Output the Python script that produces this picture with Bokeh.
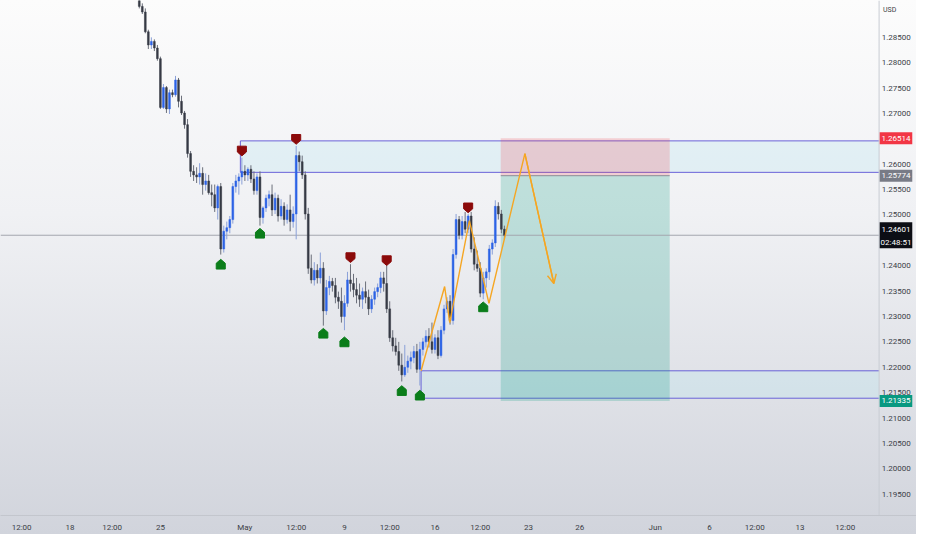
from bokeh.plotting import figure
from bokeh.models import (Range1d, FixedTicker, Arrow, OpenHead, ColumnDataSource)
from bokeh.embed import file_html
from bokeh.resources import INLINE
from bokeh.core.properties import value

FONT = "Roboto"

# ---------------- data (4H candles, bar index based) ----------------
first_bar = 46
opens = [1.2930, 1.2911, 1.2900, 1.2861, 1.2835, 1.2842, 1.2829, 1.2808, 1.2712, 1.2751,
         1.2709, 1.2741, 1.2737, 1.2766, 1.2724, 1.2701, 1.2678, 1.2621, 1.2586, 1.2579,
         1.2575, 1.2582, 1.2560, 1.2567, 1.2544, 1.2540, 1.2514, 1.2556, 1.2433, 1.2468,
         1.2475, 1.2491, 1.2556, 1.2567, 1.2575, 1.2586, 1.2579, 1.2590, 1.2571, 1.2548,
         1.2575, 1.2495, 1.2514, 1.2533, 1.2540, 1.2510, 1.2533, 1.2498, 1.2517, 1.2491,
         1.2510, 1.2487, 1.2502, 1.2617, 1.2605, 1.2579, 1.2502, 1.2395, 1.2372, 1.2391,
         1.2376, 1.2395, 1.2311, 1.2357, 1.2369, 1.2361, 1.2338, 1.2330, 1.2300, 1.2326,
         1.2372, 1.2365, 1.2353, 1.2342, 1.2334, 1.2349, 1.2338, 1.2315, 1.2334, 1.2349,
         1.2357, 1.2376, 1.2365, 1.2315, 1.2258, 1.2242, 1.2231, 1.2204, 1.2185, 1.2200,
         1.2212, 1.2219, 1.2231, 1.2196, 1.2235, 1.2250, 1.2261, 1.2250, 1.2235, 1.2258,
         1.2223, 1.2273, 1.2315, 1.2330, 1.2292, 1.2422, 1.2491, 1.2460, 1.2487, 1.2472,
         1.2498, 1.2433, 1.2403, 1.2395, 1.2346, 1.2376, 1.2388, 1.2433, 1.2445, 1.2517,
         1.2502, 1.2472]
highs = [1.2934, 1.2917, 1.2907, 1.2865, 1.2850, 1.2846, 1.2835, 1.2812, 1.2758, 1.2754,
         1.2747, 1.2747, 1.2774, 1.2770, 1.2735, 1.2705, 1.2689, 1.2626, 1.2598, 1.2594,
         1.2602, 1.2594, 1.2582, 1.2579, 1.2560, 1.2560, 1.2560, 1.2563, 1.2479, 1.2487,
         1.2498, 1.2563, 1.2579, 1.2582, 1.2613, 1.2598, 1.2594, 1.2598, 1.2586, 1.2582,
         1.2586, 1.2517, 1.2540, 1.2548, 1.2560, 1.2544, 1.2540, 1.2531, 1.2525, 1.2521,
         1.2540, 1.2517, 1.2636, 1.2625, 1.2617, 1.2586, 1.2514, 1.2422, 1.2407, 1.2403,
         1.2426, 1.2407, 1.2372, 1.2380, 1.2376, 1.2376, 1.2349, 1.2357, 1.2342, 1.2388,
         1.2403, 1.2384, 1.2376, 1.2365, 1.2357, 1.2369, 1.2353, 1.2342, 1.2357, 1.2365,
         1.2388, 1.2388, 1.2401, 1.2330, 1.2273, 1.2258, 1.2250, 1.2227, 1.2244, 1.2223,
         1.2231, 1.2242, 1.2246, 1.2250, 1.2258, 1.2273, 1.2277, 1.2288, 1.2265, 1.2273,
         1.2281, 1.2323, 1.2338, 1.2342, 1.2433, 1.2502, 1.2498, 1.2498, 1.2506, 1.2502,
         1.2506, 1.2456, 1.2430, 1.2407, 1.2388, 1.2395, 1.2441, 1.2452, 1.2529, 1.2525,
         1.2510, 1.2479]
lows = [1.2907, 1.2896, 1.2858, 1.2827, 1.2827, 1.2823, 1.2804, 1.2709, 1.2709, 1.2701,
        1.2699, 1.2732, 1.2733, 1.2712, 1.2697, 1.2670, 1.2613, 1.2575, 1.2567, 1.2563,
        1.2560, 1.2540, 1.2548, 1.2540, 1.2517, 1.2506, 1.2491, 1.2422, 1.2426, 1.2452,
        1.2464, 1.2483, 1.2544, 1.2540, 1.2560, 1.2567, 1.2567, 1.2563, 1.2540, 1.2540,
        1.2479, 1.2483, 1.2506, 1.2517, 1.2498, 1.2502, 1.2487, 1.2491, 1.2479, 1.2483,
        1.2468, 1.2475, 1.2452, 1.2586, 1.2571, 1.2491, 1.2384, 1.2365, 1.2361, 1.2365,
        1.2365, 1.2282, 1.2303, 1.2342, 1.2349, 1.2326, 1.2315, 1.2288, 1.2273, 1.2319,
        1.2349, 1.2338, 1.2326, 1.2319, 1.2315, 1.2326, 1.2303, 1.2307, 1.2323, 1.2338,
        1.2346, 1.2349, 1.2307, 1.2250, 1.2231, 1.2223, 1.2193, 1.2172, 1.2181, 1.2189,
        1.2196, 1.2208, 1.2189, 1.2164, 1.2223, 1.2239, 1.2239, 1.2227, 1.2227, 1.2216,
        1.2219, 1.2265, 1.2307, 1.2284, 1.2284, 1.2414, 1.2452, 1.2452, 1.2464, 1.2464,
        1.2426, 1.2391, 1.2388, 1.2338, 1.2334, 1.2357, 1.2372, 1.2422, 1.2437, 1.2491,
        1.2464, 1.2452]
closes = [1.2911, 1.2900, 1.2861, 1.2835, 1.2842, 1.2829, 1.2808, 1.2712, 1.2751, 1.2709,
          1.2741, 1.2737, 1.2766, 1.2724, 1.2701, 1.2678, 1.2621, 1.2586, 1.2579, 1.2575,
          1.2582, 1.2560, 1.2567, 1.2544, 1.2540, 1.2514, 1.2556, 1.2433, 1.2468, 1.2475,
          1.2491, 1.2556, 1.2567, 1.2575, 1.2586, 1.2579, 1.2590, 1.2571, 1.2548, 1.2575,
          1.2495, 1.2514, 1.2533, 1.2540, 1.2510, 1.2533, 1.2498, 1.2517, 1.2491, 1.2510,
          1.2487, 1.2502, 1.2617, 1.2605, 1.2579, 1.2502, 1.2395, 1.2372, 1.2391, 1.2376,
          1.2395, 1.2311, 1.2357, 1.2369, 1.2361, 1.2338, 1.2330, 1.2300, 1.2326, 1.2372,
          1.2365, 1.2353, 1.2342, 1.2334, 1.2349, 1.2338, 1.2315, 1.2334, 1.2349, 1.2357,
          1.2376, 1.2365, 1.2315, 1.2258, 1.2242, 1.2231, 1.2204, 1.2185, 1.2200, 1.2212,
          1.2219, 1.2231, 1.2196, 1.2235, 1.2250, 1.2261, 1.2250, 1.2235, 1.2258, 1.2223,
          1.2273, 1.2315, 1.2330, 1.2292, 1.2422, 1.2491, 1.2460, 1.2487, 1.2472, 1.2498,
          1.2433, 1.2403, 1.2395, 1.2346, 1.2376, 1.2388, 1.2433, 1.2445, 1.2517, 1.2502,
          1.2472, 1.2460]

# swing high / low markers (bar, price)
swing_high_bar = [80, 98, 116, 128, 155]
swing_high_price = [1.2626, 1.2649, 1.2416, 1.2410, 1.2514]
swing_low_bar = [73, 86, 107, 114, 133, 139, 160]
swing_low_price = [1.2403, 1.2464, 1.2267, 1.2250, 1.2154, 1.2145, 1.2319]

# supply / demand zones
zone_start = [79.5, 139.4]
zone_top = [1.2646, 1.2193]
zone_bottom = [1.2584, 1.2139]

# short position tool
pos_left, pos_right = 165.8, 221.8
stop_price, entry_price, target_price = 1.26514, 1.25774, 1.21335
last_price = 1.24601
countdown = "02:48:51"

# projected path
proj_x = [139.4, 147.2, 148.9, 155.4, 161.9, 173.8, 183.4]
proj_y = [1.2193, 1.2359, 1.2288, 1.2489, 1.2326, 1.2621, 1.2365]

# axes
price_ticks = [1.195, 1.200, 1.205, 1.210, 1.215, 1.220, 1.225, 1.230, 1.235, 1.240,
               1.245, 1.250, 1.255, 1.260, 1.265, 1.270, 1.275, 1.280, 1.285]
price_unit = "USD"
time_tick_pos = [7, 23, 37, 53, 81, 98, 114, 129, 144, 159, 175, 192, 217, 235, 250, 265, 280]
time_tick_labels = ["12:00", "18", "12:00", "25", "May", "12:00", "9", "12:00", "16",
                    "12:00", "23", "26", "Jun", "6", "12:00", "13", "12:00"]

# layout of the chart pane (in bar units / prices)
X0, X1 = 0.0, 303.6          # whole width, including the price scale column
SCALE_X = 291.2              # left border of the price scale column
LABEL_X = 296.9              # centre of the price scale labels
TAG_W = 10.8                 # width of the price tags (bars)
Y0, Y1 = 1.19079, 1.29226
W, H = 916, 534

# ---------------- figure ----------------
p = figure(width=W, height=H, x_range=Range1d(X0, X1), y_range=Range1d(Y0, Y1),
           output_backend="svg", toolbar_location=None, y_axis_location=None,
           min_border_left=0, min_border_top=0, min_border_right=0, min_border_bottom=0)
p.background_fill_alpha = 0
p.border_fill_alpha = 0
p.outline_line_color = None
p.styles = {"background": "linear-gradient(to bottom, #fcfcfc 0%, #f0f1f4 40%, #d1d4dc 100%)"}
p.xgrid.visible = False
p.ygrid.visible = False

# zones
zsrc = ColumnDataSource(dict(left=zone_start, right=[SCALE_X] * len(zone_start),
                             top=zone_top, bottom=zone_bottom))
p.quad(left="left", right="right", top="top", bottom="bottom", source=zsrc,
       fill_color="#b9e6f0", fill_alpha=0.3, line_color=None)
p.segment(x0="left", y0="top", x1="right", y1="top", source=zsrc, line_color="#6a62d8", line_width=1)
p.segment(x0="left", y0="bottom", x1="right", y1="bottom", source=zsrc, line_color="#6a62d8", line_width=1)
p.segment(x0="left", y0="bottom", x1="left", y1="top", source=zsrc, line_color="#6a62d8", line_width=1)

# position box
p.quad(left=[pos_left], right=[pos_right], top=[stop_price], bottom=[entry_price],
       fill_color="#f23645", fill_alpha=0.2, line_color=None)
p.quad(left=[pos_left], right=[pos_right], top=[entry_price], bottom=[target_price],
       fill_color="#089981", fill_alpha=0.22, line_color=None)
p.segment(x0=[pos_left], y0=[entry_price], x1=[pos_right], y1=[entry_price],
          line_color="#8a8d96", line_width=1)

# current price line
p.segment(x0=[X0], y0=[last_price], x1=[SCALE_X], y1=[last_price], line_color="#a3a6ae", line_width=1)

# candles
bars = list(range(first_bar, first_bar + len(opens)))
is_up = [c >= o for o, c in zip(opens, closes)]
csrc = ColumnDataSource(dict(
    x=bars, o=opens, h=highs, l=lows, c=closes,
    top=[max(o, c) for o, c in zip(opens, closes)],
    bottom=[min(o, c) for o, c in zip(opens, closes)],
    color=["#2c63e6" if u else "#363a45" for u in is_up],
    wick=["#8aa0d8" if u else "#6b6f7a" for u in is_up],
))
p.segment(x0="x", y0="h", x1="x", y1="l", source=csrc, line_color="wick", line_width=1)
p.vbar(x="x", width=0.6, top="top", bottom="bottom", source=csrc,
       fill_color="color", line_color="color", line_width=0.5)

# projected path
p.line(proj_x, proj_y, line_color="#f5a623", line_width=1.4)
p.add_layout(Arrow(end=OpenHead(size=9, line_color="#f5a623", line_width=1.4),
                   x_start=proj_x[-2], y_start=proj_y[-2], x_end=proj_x[-1], y_end=proj_y[-1],
                   line_color="#f5a623", line_width=1.4))

# swing markers (pentagon shapes)
hw = 1.5  # half width in bars
u = 1.0 / 5233.0  # about one pixel in price
hx, hy = [], []
for b, pr in zip(swing_high_bar, swing_high_price):
    hx.append([b - hw, b + hw, b + hw, b, b - hw])
    hy.append([pr + 5 * u, pr + 5 * u, pr - 1 * u, pr - 5 * u, pr - 1 * u])
p.patches(hx, hy, fill_color="#8b0a0a", line_color="#8b0a0a", line_width=1, line_join="round")
lx, ly = [], []
for b, pr in zip(swing_low_bar, swing_low_price):
    lx.append([b - hw, b + hw, b + hw, b, b - hw])
    ly.append([pr - 5 * u, pr - 5 * u, pr + 1 * u, pr + 5 * u, pr + 1 * u])
p.patches(lx, ly, fill_color="#0b7d1a", line_color="#0b7d1a", line_width=1, line_join="round")

# ---------------- price scale column ----------------
p.segment(x0=[SCALE_X], y0=[Y0], x1=[SCALE_X], y1=[Y1], line_color="#c9ccd3", line_width=1)
p.text(x=[LABEL_X] * len(price_ticks), y=price_ticks,
       text=["%.5f" % t for t in price_ticks], text_align="center", text_baseline="middle",
       text_font=value(FONT), text_font_size="8px", text_color="#3b3e46")
p.text(x=[SCALE_X + 1.3], y=[Y1], y_offset=[5], text=[price_unit], text_align="left",
       text_baseline="top", text_font=value(FONT), text_font_size="7px", text_color="#3b3e46")

tag_prices = [stop_price, entry_price, target_price]
tag_colors = ["#f23645", "#787b86", "#089981"]
p.rect(x=[SCALE_X + 0.2 + TAG_W / 2] * 3, y=tag_prices, width=TAG_W, height=12,
       height_units="screen", fill_color=tag_colors, line_color=None)
p.text(x=[SCALE_X + 0.2 + TAG_W / 2] * 3, y=tag_prices, text=["%.5f" % v for v in tag_prices],
       text_align="center", text_baseline="middle", text_font=value(FONT),
       text_font_size="8px", text_color="white")
# last price + countdown
p.rect(x=[SCALE_X + 0.2 + TAG_W / 2], y=[last_price], width=TAG_W, height=26,
       height_units="screen", fill_color="#0c0e15", line_color=None)
p.text(x=[SCALE_X + 0.2 + TAG_W / 2] * 2, y=[last_price] * 2, y_offset=[-6, 7],
       text=["%.5f" % last_price, countdown], text_align="center", text_baseline="middle",
       text_font=value(FONT), text_font_size="8px", text_color="white")

# ---------------- time axis ----------------
xa = p.xaxis[0]
xa.ticker = FixedTicker(ticks=time_tick_pos)
xa.major_label_overrides = {pos: lab for pos, lab in zip(time_tick_pos, time_tick_labels)}
xa.major_tick_line_color = None
xa.minor_tick_line_color = None
xa.major_tick_out = 0
xa.major_tick_in = 0
xa.minor_tick_out = 0
xa.axis_line_color = "#c3c6cd"
xa.major_label_text_font = FONT
xa.major_label_text_font_size = "8px"
xa.major_label_text_color = "#3b3e46"
xa.major_label_standoff = 7

open("out.html", "w").write(file_html(p, INLINE))
